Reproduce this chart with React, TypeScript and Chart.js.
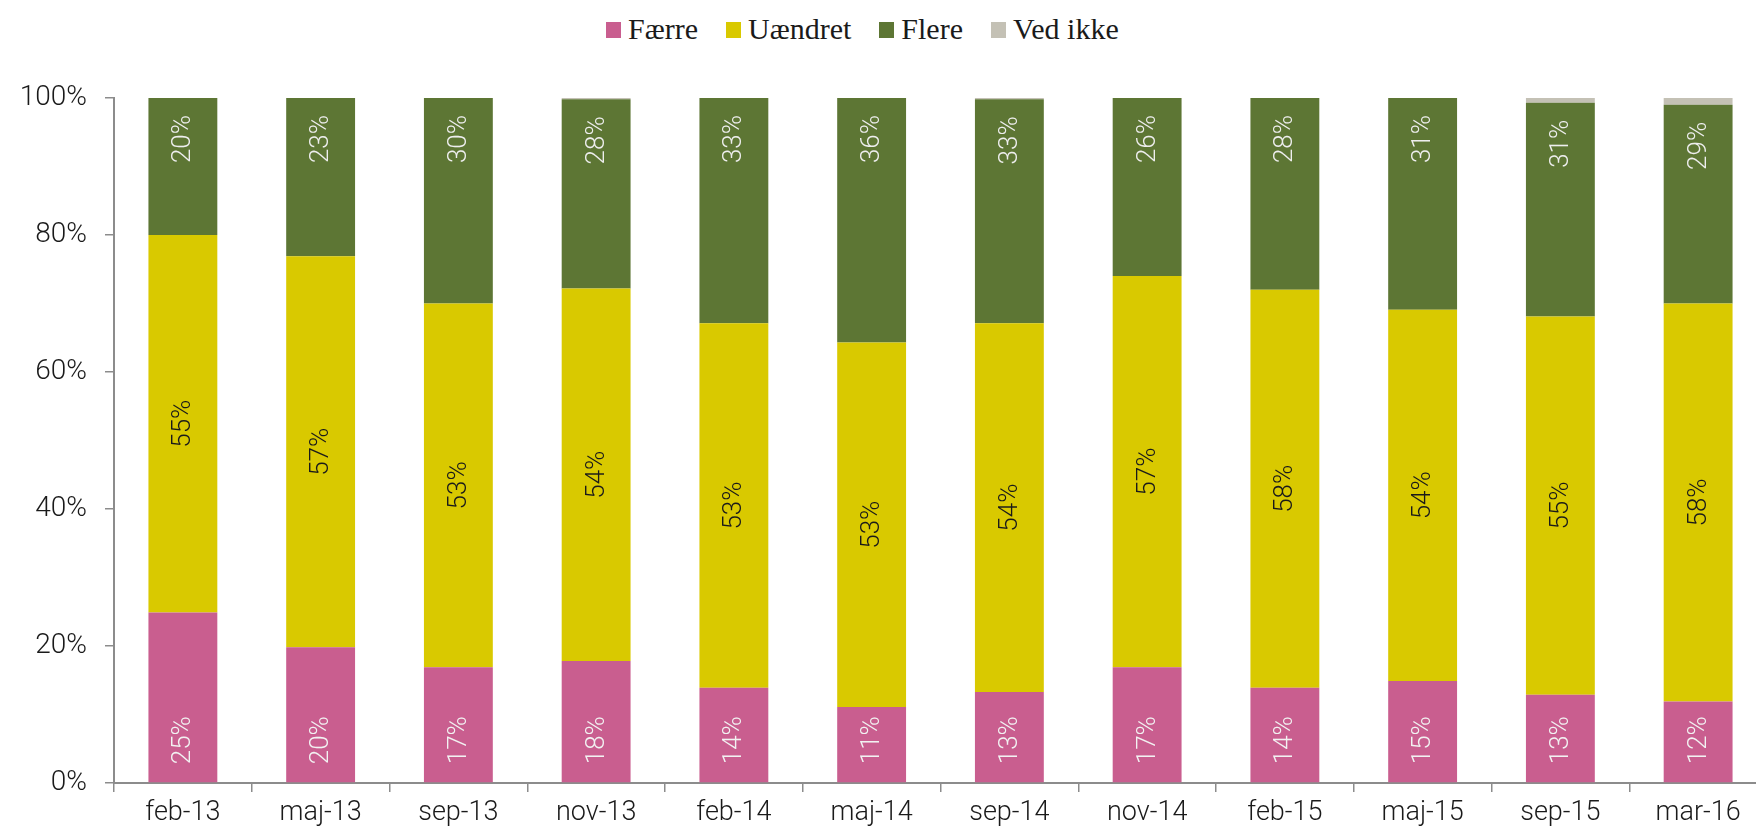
import React, { useEffect, useRef } from "react";
import { Chart, registerables } from "chart.js";

Chart.register(...registerables);

const categories = ["feb-13", "maj-13", "sep-13", "nov-13", "feb-14", "maj-14", "sep-14", "nov-14", "feb-15", "maj-15", "sep-15", "mar-16"];
const faerre = [24.9, 19.8, 16.9, 17.8, 13.9, 11.1, 13.3, 16.9, 13.9, 14.9, 12.9, 11.9];
const uaendret = [55.1, 57.1, 53.1, 54.4, 53.2, 53.2, 53.8, 57.1, 58.1, 54.2, 55.2, 58.1];
const flere = [20.0, 23.1, 30.0, 27.6, 32.9, 35.7, 32.7, 26.0, 28.0, 30.9, 31.2, 29.0];
const vedIkke = [0, 0, 0, 0.2, 0, 0, 0.2, 0, 0, 0, 0.7, 1.0];
const yTicks = [0, 20, 40, 60, 80, 100];

const seriesNames = ["Færre", "Uændret", "Flere", "Ved ikke"];
const seriesColors = ["#c95e8f", "#d9c900", "#5d7634", "#c4c1b5"];
const labelColors = ["#f2f2f2", "#1a1a1a", "#eeeeee", null];
const labelModes = ["base", "center", "end", "none"];

const labelPlugin = {
  id: "rotatedLabels",
  afterDatasetsDraw(chart: any) {
    const ctx = chart.ctx;
    ctx.save();
    ctx.font = "300 26px Roboto";
    chart.data.datasets.forEach((ds: any, di: number) => {
      const mode = labelModes[di];
      if (mode === "none") return;
      const meta = chart.getDatasetMeta(di);
      meta.data.forEach((bar: any, i: number) => {
        const v = ds.data[i];
        if (!v) return;
        const text = Math.round(v) + "%";
        const top = Math.min(bar.y, bar.base);
        const bottom = Math.max(bar.y, bar.base);
        let y: number;
        ctx.save();
        ctx.fillStyle = labelColors[di];
        ctx.textBaseline = "middle";
        if (mode === "end") {
          ctx.textAlign = "right";
          y = top + 17;
        } else if (mode === "base") {
          ctx.textAlign = "left";
          y = bottom - 18;
        } else {
          ctx.textAlign = "center";
          y = (top + bottom) / 2;
        }
        ctx.translate(bar.x, y);
        ctx.rotate(-Math.PI / 2);
        ctx.fillText(text, 0, 1);
        ctx.restore();
      });
    });
    ctx.restore();
  },
};

export default function App() {
  const canvasRef = useRef<HTMLCanvasElement | null>(null);

  useEffect(() => {
    if (!canvasRef.current) return;
    const series = [faerre, uaendret, flere, vedIkke];
    const chart = new Chart(canvasRef.current, {
      type: "bar",
      data: {
        labels: categories,
        datasets: series.map((d, i) => ({
          label: seriesNames[i],
          data: d,
          backgroundColor: seriesColors[i],
          borderWidth: 0,
          categoryPercentage: 1,
          barPercentage: 0.5,
        })),
      },
      options: {
        animation: false,
        responsive: true,
        maintainAspectRatio: false,
        layout: { padding: { top: 98, left: 0, right: 0, bottom: 0 } },
        plugins: {
          legend: { display: false },
          tooltip: { enabled: false },
        },
        scales: {
          x: {
            stacked: true,
            afterFit: (s: any) => {
              s.height = 52;
            },
            grid: {
              display: true,
              drawOnChartArea: false,
              offset: true,
              tickLength: 9,
              color: "#8c8c8c",
              lineWidth: 1.5,
            },
            border: { display: true, color: "#8c8c8c", width: 2 },
            ticks: {
              color: "#1a1a1a",
              font: { family: "Roboto", size: 27, weight: "300" },
              padding: 5,
              maxRotation: 0,
              autoSkip: false,
            },
          },
          y: {
            stacked: true,
            min: 0,
            max: 100,
            afterFit: (s: any) => {
              s.width = 114;
            },
            afterBuildTicks: (s: any) => {
              s.ticks = yTicks.map((v) => ({ value: v }));
            },
            grid: {
              display: true,
              drawOnChartArea: false,
              tickLength: 9,
              color: "#8c8c8c",
              lineWidth: 1.5,
            },
            border: { display: true, color: "#8c8c8c", width: 2 },
            ticks: {
              color: "#1a1a1a",
              font: { family: "Roboto", size: 28, weight: "300" },
              padding: 18,
              callback: (v: any) => v + "%",
            },
          },
        },
      },
      plugins: [labelPlugin],
    });
    return () => chart.destroy();
  }, []);

  return (
    <div
      style={{
        position: "fixed",
        left: 0,
        top: 0,
        width: 1756,
        height: 835,
        overflow: "hidden",
        background: "#ffffff",
      }}
    >
      <div
        style={{
          position: "absolute",
          left: 606,
          top: 12,
          display: "flex",
          alignItems: "center",
          fontFamily: "'Liberation Serif', serif",
          fontSize: 30,
          color: "#1a1a1a",
          whiteSpace: "nowrap",
          lineHeight: "34px",
        }}
      >
        {seriesNames.map((n, i) => (
          <div key={n} style={{ display: "flex", alignItems: "center", marginRight: 28 }}>
            <span
              style={{
                display: "inline-block",
                width: 15,
                height: 16,
                background: seriesColors[i],
                marginRight: 7,
                marginTop: 2,
              }}
            />
            <span>{n}</span>
          </div>
        ))}
      </div>
      <div style={{ position: "absolute", left: 0, top: 0, width: 1767, height: 835 }}>
        <canvas ref={canvasRef} />
      </div>
    </div>
  );
}
